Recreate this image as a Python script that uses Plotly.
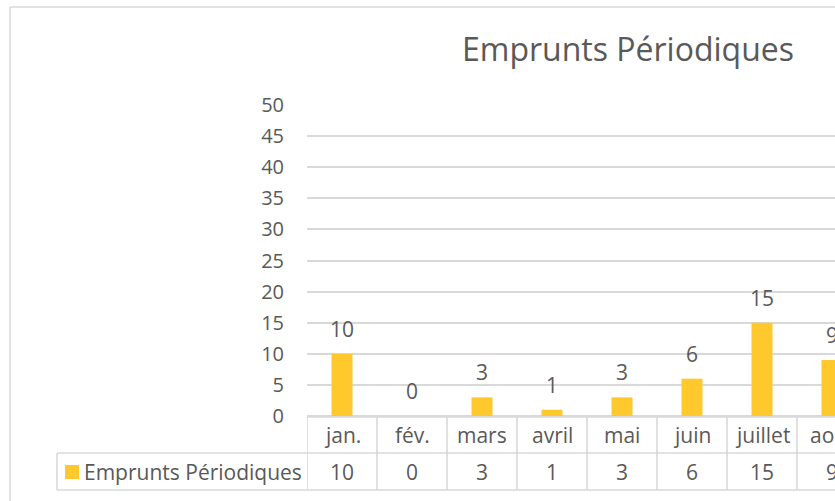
import plotly.graph_objects as go

# ---- data ----
months = ["jan.", "fév.", "mars", "avril", "mai", "juin", "juillet", "août"]
values = [10, 0, 3, 1, 3, 6, 15, 9]
series_name = "Emprunts Périodiques"
chart_title = "Emprunts Périodiques"
y_ticks = [0, 5, 10, 15, 20, 25, 30, 35, 40, 45, 50]

# ---- geometry (pixels) ----
W, H = 835, 501
PL, PR, PT, PB = 307, 835, 105, 416  # plot area
ML, MR, MT, MB = PL, W - PR, PT, H - PB
PW = PR - PL
PH = PB - PT
COL = 70.0  # px per category


def px(x):
    return (x - PL) / PW


def py(y):
    return (PB - y) / PH


FONT = "Open Sans"
TXT = "#595959"
GRID = "#D9D9D9"
BAR = "#FFC92E"
FS = 21

fig = go.Figure(
    go.Bar(
        x=months,
        y=values,
        marker=dict(color=BAR, line=dict(width=0)),
        width=0.3,
        showlegend=False,
        hoverinfo="skip",
    )
)

annotations = []
# data labels
for m, v in zip(months, values):
    annotations.append(dict(x=m, y=v, xref="x", yref="y", text=str(v), showarrow=False,
                            yanchor="middle", yshift=25,
                            font=dict(family=FONT, size=FS, color=TXT)))
# data table: categories and values
for m, v in zip(months, values):
    annotations.append(dict(x=m, y=py(435), xref="x", yref="paper", text=m, showarrow=False,
                            yanchor="middle", font=dict(family=FONT, size=FS, color=TXT)))
    annotations.append(dict(x=m, y=py(472), xref="x", yref="paper", text=str(v), showarrow=False,
                            yanchor="middle", font=dict(family=FONT, size=FS, color=TXT)))
# legend text in table
annotations.append(dict(x=px(82), y=py(472), xref="paper", yref="paper", text=series_name,
                        showarrow=False, xanchor="left", yanchor="middle",
                        font=dict(family=FONT, size=FS, color=TXT)))

shapes = []
line = dict(color=GRID, width=1.6)
# table horizontal lines
shapes.append(dict(type="line", xref="paper", yref="paper", x0=px(307), x1=1.1, y0=py(417), y1=py(417), line=line))
shapes.append(dict(type="line", xref="paper", yref="paper", x0=px(57), x1=1.1, y0=py(453), y1=py(453), line=line))
shapes.append(dict(type="line", xref="paper", yref="paper", x0=px(57), x1=1.1, y0=py(490), y1=py(490), line=line))
# table vertical lines at category boundaries
for k in range(len(months)):
    shapes.append(dict(type="line", xref="x", yref="paper", x0=k - 0.5, x1=k - 0.5,
                       y0=py(417), y1=py(490), line=line))
shapes.append(dict(type="line", xref="paper", yref="paper", x0=px(57), x1=px(57),
                   y0=py(453), y1=py(490), line=line))
# legend key square
shapes.append(dict(type="rect", xref="paper", yref="paper", x0=px(65), x1=px(79),
                   y0=py(479), y1=py(465), fillcolor=BAR, line=dict(width=0)))
# outer chart border
shapes.append(dict(type="line", xref="paper", yref="paper", x0=px(10), x1=1.1, y0=py(7), y1=py(7),
                   line=dict(color=GRID, width=1.5)))
shapes.append(dict(type="line", xref="paper", yref="paper", x0=px(10), x1=px(10), y0=py(7), y1=py(510),
                   line=dict(color=GRID, width=1.5)))

fig.update_layout(
    width=W, height=H,
    margin=dict(l=ML, r=MR, t=MT, b=MB, pad=0),
    paper_bgcolor="white", plot_bgcolor="white",
    title=dict(text=chart_title, x=628 / W, xref="container", xanchor="center",
               y=1 - 50 / H, yref="container", yanchor="middle",
               font=dict(family=FONT, size=32, color=TXT)),
    xaxis=dict(range=[-0.5, -0.5 + PW / COL], showticklabels=False, showgrid=False,
               zeroline=False, showline=False, ticks=""),
    yaxis=dict(range=[0, 50], tickvals=y_ticks, showgrid=True, gridcolor=GRID, gridwidth=1.5,
               zeroline=True, zerolinecolor=GRID, zerolinewidth=1.5, showline=False,
               ticks="", ticklabelstandoff=22,
               tickfont=dict(family=FONT, size=20, color=TXT)),
    annotations=annotations,
    shapes=shapes,
    bargap=0.7,
)

fig.write_html(
    "out.html",
    config={"displayModeBar": False},
    post_script="document.body.style.margin='0';document.body.style.overflow='hidden';",
)
